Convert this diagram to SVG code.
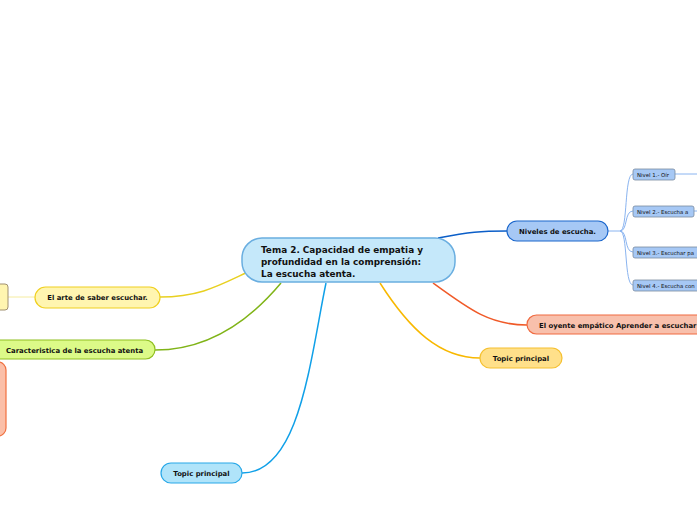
<svg xmlns="http://www.w3.org/2000/svg" width="697" height="520" viewBox="0 0 697 520">
<style>
text{font-family:"DejaVu Sans","Liberation Sans",sans-serif;fill:#111}
.b{font-weight:bold}
.t1{font-size:6.9px}
.t0{font-size:8.9px}
.t2{font-size:5.4px}
.c{fill:none}
</style>
<rect width="697" height="520" fill="#fff"/>
<g id="connectors" class="c">
<path d="M438,238 C470,232 480,231 507,231" stroke="#0b5ec8" stroke-width="1.5"/>
<path d="M433,283 C470,310 490,325 527,325" stroke="#f05a28" stroke-width="1.5"/>
<path d="M380,283 C410,330 440,358 480,358" stroke="#f8b800" stroke-width="1.5"/>
<path d="M326,283 C310,360 300,473 242,473" stroke="#10a0e8" stroke-width="1.5"/>
<path d="M281,283 C250,320 210,350 155,350" stroke="#80b418" stroke-width="1.5"/>
<path d="M248,272 C220,285 200,297 160,297" stroke="#e8d020" stroke-width="1.5"/>
<path d="M35,297 L8,297" stroke="#f5eca0" stroke-width="1"/>
<g stroke="#8ab4f0" stroke-width="1">
<path d="M608,231 L620,231"/>
<path d="M620,231 C628,231 624,174 633,174"/>
<path d="M620,231 C628,231 624,211 633,211"/>
<path d="M620,231 C628,231 624,252 633,252"/>
<path d="M620,231 C628,231 624,285 633,285"/>
<path d="M675,174 L697,174"/>
<path d="M694,211 L697,211"/>
</g>
</g>
<g id="central">
<rect x="242" y="238" width="213" height="44" rx="20" fill="#c5e8fa" stroke="#6aaee0" stroke-width="1.5"/>
<text class="b t0" x="261" y="253">Tema 2. Capacidad de empatia y</text>
<text class="b t0" x="261" y="265">profundidad en la comprensión:</text>
<text class="b t0" x="261" y="277">La escucha atenta.</text>
</g>
<g id="niveles">
<rect x="507" y="221" width="101" height="20" rx="10" fill="#a6c8f5" stroke="#1a66cc" stroke-width="1.2"/>
<text class="b t1" x="557.5" y="233.5" text-anchor="middle">Niveles de escucha.</text>
</g>
<g id="nivel1">
<rect x="633" y="169" width="42" height="11" rx="2" fill="#a6c8f5" stroke="#7a8aa0" stroke-width="0.8"/>
<text class="t2" x="637" y="176.5">Nivel 1.- Oír</text>
</g>
<g id="nivel2">
<rect x="633" y="206" width="61" height="11" rx="2" fill="#a6c8f5" stroke="#7a8aa0" stroke-width="0.8"/>
<text class="t2" x="637" y="213.5">Nivel 2.- Escucha a</text>
</g>
<g id="nivel3">
<rect x="633" y="247" width="70" height="11" rx="2" fill="#a6c8f5" stroke="#7a8aa0" stroke-width="0.8"/>
<text class="t2" x="637" y="254.5">Nivel 3.- Escuchar pa</text>
</g>
<g id="nivel4">
<rect x="633" y="280" width="70" height="11" rx="2" fill="#a6c8f5" stroke="#7a8aa0" stroke-width="0.8"/>
<text class="t2" x="637" y="287.5">Nivel 4.- Escucha con</text>
</g>
<g id="oyente">
<rect x="527" y="315" width="190" height="19" rx="9.5" fill="#f8c0ac" stroke="#f06a40" stroke-width="1.2"/>
<text class="b t1" x="539" y="327.5">El oyente empático Aprender a escuchar</text>
</g>
<g id="topic-yellow">
<rect x="480" y="348" width="82" height="20" rx="10" fill="#ffe08a" stroke="#f5c030" stroke-width="1.2"/>
<text class="b t1" x="521" y="360.5" text-anchor="middle">Topic principal</text>
</g>
<g id="topic-blue">
<rect x="161" y="463" width="81" height="20" rx="10" fill="#b0e4fa" stroke="#28a8e8" stroke-width="1.2"/>
<text class="b t1" x="201.5" y="475.5" text-anchor="middle">Topic principal</text>
</g>
<g id="caracteristica">
<rect x="-10" y="340" width="165" height="19" rx="9.5" fill="#dcfa88" stroke="#90c020" stroke-width="1.2"/>
<text class="b t1" x="6" y="352.5">Caracteristica de la escucha atenta</text>
</g>
<g id="arte">
<rect x="35" y="287" width="125" height="21" rx="10.5" fill="#fff5b0" stroke="#f0d020" stroke-width="1.2"/>
<text class="b t1" x="97.5" y="300" text-anchor="middle">El arte de saber escuchar.</text>
</g>
<g id="arte-child">
<rect x="-10" y="284" width="18" height="26" rx="3" fill="#fff5b0" stroke="#a09070" stroke-width="1"/>
</g>
<g id="red-node">
<rect x="-12" y="362" width="18" height="74" rx="8" fill="#fbbfa8" stroke="#f07040" stroke-width="1.2"/>
</g>
</svg>
